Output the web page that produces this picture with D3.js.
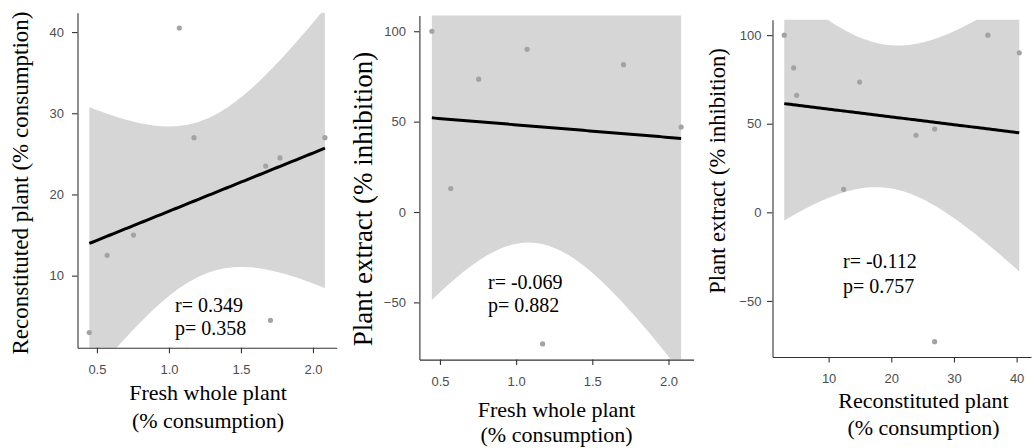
<!DOCTYPE html>
<html>
<head>
<meta charset="utf-8">
<script src="https://cdn.jsdelivr.net/npm/d3@7"></script>
<style>
body{margin:0;background:#fff;}
svg{display:block;}
.tick text{font-family:"Liberation Sans",Arial,sans-serif;font-size:13px;fill:#4d4d4d;}
.axis path,.axis line{stroke:#333;stroke-width:1.1;}
.title,.stat{font-family:"Liberation Serif","Times New Roman",serif;fill:#000;}
</style>
</head>
<body>
<div id="chart"></div>
<script>
//fresh whole plant vs reconstituted plant
const freshA = [0.447, 0.571, 0.754, 1.072, 1.174, 1.672, 1.705, 1.771, 2.083];
const reconA = [3.0, 12.5, 15.0, 40.5, 27.0, 23.5, 4.5, 24.5, 27.0];
//fresh whole plant vs plant extract
const freshB = [0.447, 0.571, 0.754, 1.072, 1.174, 1.705, 2.083];
const extractB = [100, 13, 73.5, 90, -73, 81.5, 47];
//reconstituted plant vs plant extract
const reconC = [2.92, 4.42, 4.90, 12.40, 14.95, 23.94, 26.92, 26.92, 35.42, 40.42];
const extractC = [100, 81.5, 66, 13, 73.5, 43.5, 47, -73, 100, 90];

const ticksFresh = [0.5, 1.0, 1.5, 2.0];
const ticksRecon = [10, 20, 30, 40];
const ticksExtract = [-50, 0, 50, 100];

const statsA = ["r= 0.349", "p= 0.358"];
const statsB = ["r= -0.069", "p= 0.882"];
const statsC = ["r= -0.112", "p= 0.757"];

//t quantile (0.975) by residual df
const tCrit = {5: 2.571, 7: 2.365, 8: 2.306};

const width = 1035, height = 448;
const svg = d3.select('#chart').append('svg')
	.attr('width', width)
	.attr('height', height);

//ggplot style 5% expansion
function expand(ext){
	const d = (ext[1] - ext[0]) * 0.05;
	return [ext[0] - d, ext[1] + d];
}

//lm fit + 95% confidence band over the data range
function lmBand(xs, ys){
	const n = xs.length;
	const mx = d3.mean(xs), my = d3.mean(ys);
	const sxx = d3.sum(xs, x => (x - mx) ** 2);
	const sxy = d3.sum(xs, (x, i) => (x - mx) * (ys[i] - my));
	const b = sxy / sxx, a = my - b * mx;
	const sse = d3.sum(xs, (x, i) => (ys[i] - a - b * x) ** 2);
	const s = Math.sqrt(sse / (n - 2));
	const t = tCrit[n - 2];
	const ext = d3.extent(xs);
	return d3.range(80).map(i => {
		const x = ext[0] + i * (ext[1] - ext[0]) / 79;
		const fit = a + b * x;
		const se = s * Math.sqrt(1 / n + (x - mx) ** 2 / sxx);
		return {x: x, fit: fit, lo: fit - t * se, hi: fit + t * se};
	});
}

function panel(cfg, idx){
	const x = d3.scaleLinear().domain(expand(d3.extent(cfg.xs))).range(cfg.xr);
	const y = d3.scaleLinear().domain(expand(d3.extent(cfg.ys))).range(cfg.yr);
	const g = svg.append('g').attr('class', 'panel');

	g.append('clipPath').attr('id', 'clip' + idx)
		.append('rect')
		.attr('x', cfg.xr[0]).attr('y', cfg.yr[1])
		.attr('width', cfg.xr[1] - cfg.xr[0])
		.attr('height', cfg.yr[0] - cfg.yr[1]);

	const band = lmBand(cfg.xs, cfg.ys);
	const plot = g.append('g').attr('clip-path', `url(#clip${idx})`);

	plot.append('path')
		.datum(band)
		.attr('d', d3.area().x(d => x(d.x)).y0(d => y(d.lo)).y1(d => y(d.hi)))
		.style('fill', '#d6d6d6');

	plot.append('path')
		.datum(band)
		.attr('d', d3.line().x(d => x(d.x)).y(d => y(d.fit)))
		.style('fill', 'none')
		.style('stroke', '#000')
		.style('stroke-width', 3);

	plot.selectAll('.pt')
		.data(cfg.xs.map((v, i) => ({x: v, y: cfg.ys[i]})))
		.enter().append('circle')
		.attr('class', 'pt')
		.attr('cx', d => x(d.x))
		.attr('cy', d => y(d.y))
		.attr('r', 2.6)
		.style('fill', '#a3a3a3');

	//Axes
	g.append('g').attr('class', 'axis')
		.attr('transform', `translate(0,${cfg.yr[0]})`)
		.call(d3.axisBottom(x).tickValues(cfg.xt).tickFormat(cfg.xf)
			.tickSize(5.5).tickSizeOuter(0).tickPadding(cfg.xpad));
	g.append('g').attr('class', 'axis')
		.attr('transform', `translate(${cfg.xr[0]},0)`)
		.call(d3.axisLeft(y).tickValues(cfg.yt).tickFormat(d3.format('d'))
			.tickSize(5.5).tickSizeOuter(0).tickPadding(cfg.ypad));
	g.selectAll('.axis .domain').attr('stroke', '#333');

	//Titles
	const xt = g.append('text').attr('class', 'title')
		.attr('text-anchor', 'middle')
		.style('font-size', '22px');
	cfg.xtitle.forEach((line, i) => {
		xt.append('tspan').attr('x', cfg.xtPos[0]).attr('y', cfg.xtPos[1] + i * cfg.xtGap).text(line);
	});

	g.append('text').attr('class', 'title')
		.attr('text-anchor', 'middle')
		.attr('transform', `translate(${cfg.ytPos[0]},${cfg.ytPos[1]}) rotate(-90)`)
		.style('font-size', cfg.ytSize + 'px')
		.text(cfg.ytitle);

	//r / p annotation
	g.selectAll('.stat')
		.data(cfg.stats)
		.enter().append('text')
		.attr('class', 'stat')
		.attr('x', cfg.statPos[0])
		.attr('y', (d, i) => cfg.statPos[1] + i * cfg.statGap)
		.style('font-size', '20px')
		.text(d => d);
}

panel({
	xs: freshA, ys: reconA, xr: [77.5, 336.7], yr: [347.7, 12.8],
	xt: ticksFresh, yt: ticksRecon, xf: d3.format('.1f'), xpad: 12, ypad: 8,
	xtitle: ['Fresh whole plant', '(% consumption)'], xtPos: [208, 400], xtGap: 28,
	ytitle: 'Reconstituted plant (% consumption)', ytPos: [27.5, 183], ytSize: 23,
	stats: statsA, statPos: [175, 311.7], statGap: 23.3
}, 0);

panel({
	xs: freshB, ys: extractB, xr: [419.4, 693.6], yr: [359.6, 15.6],
	xt: ticksFresh, yt: ticksExtract, xf: d3.format('.1f'), xpad: 12, ypad: 8,
	xtitle: ['Fresh whole plant', '(% consumption)'], xtPos: [556.6, 416.7], xtGap: 25.5,
	ytitle: 'Plant extract (% inhibition)', ytPos: [372.3, 199], ytSize: 27,
	stats: statsB, statPos: [488, 289.3], statGap: 22.4
}, 1);

panel({
	xs: reconC, ys: extractC, xr: [772.5, 1031], yr: [357, 19.8],
	xt: ticksRecon, yt: ticksExtract, xf: d3.format('d'), xpad: 11, ypad: 5.6,
	xtitle: ['Reconstituted plant', '(% consumption)'], xtPos: [923.5, 408.3], xtGap: 26.7,
	ytitle: 'Plant extract (% inhibition)', ytPos: [725, 171], ytSize: 22.5,
	stats: statsC, statPos: [843, 268.3], statGap: 24.4
}, 2);
</script>
</body>
</html>
